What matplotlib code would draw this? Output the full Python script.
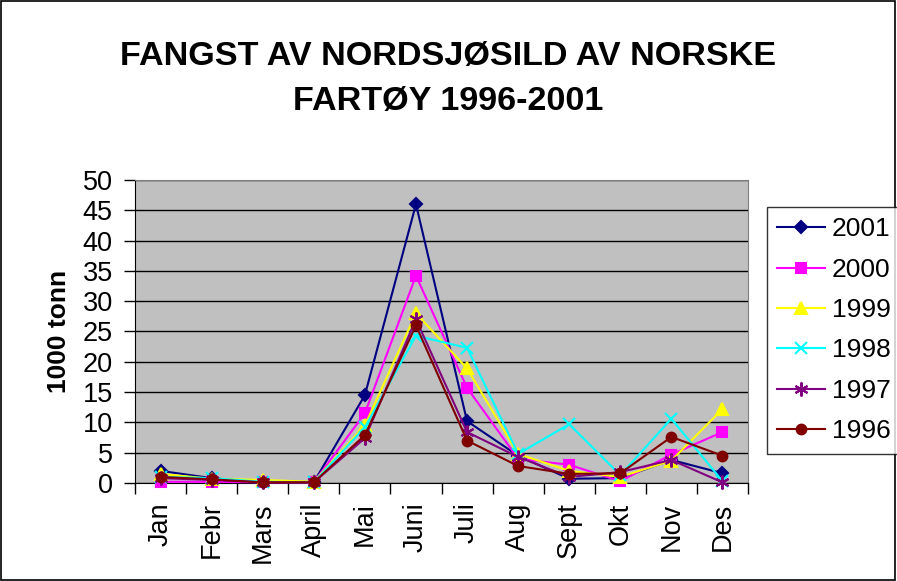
import numpy as np
import matplotlib.pyplot as plt

plt.rcParams["font.family"] = ["Liberation Sans", "DejaVu Sans"]

months = ["Jan", "Febr", "Mars", "April", "Mai", "Juni", "Juli", "Aug", "Sept", "Okt", "Nov", "Des"]
y2001 = [2.0, 0.8, 0.1, 0.1, 14.5, 46.0, 10.2, 4.5, 0.7, 0.8, 3.8, 1.6]
y2000 = [0.2, 0.2, 0.1, 0.1, 11.5, 34.2, 15.7, 4.0, 3.0, 0.3, 4.7, 8.4]
y1999 = [1.5, 0.7, 0.5, 0.2, 9.5, 28.0, 18.9, 4.8, 2.0, 1.0, 3.7, 12.2]
y1998 = [1.0, 0.8, 0.2, 0.1, 9.2, 24.3, 22.3, 4.8, 9.7, 1.3, 10.6, 0.3]
y1997 = [0.8, 0.5, 0.1, 0.1, 7.4, 27.0, 8.4, 4.3, 1.0, 1.8, 3.8, 0.1]
y1996 = [1.0, 0.6, 0.1, 0.1, 7.9, 26.0, 7.0, 2.8, 1.5, 1.6, 7.6, 4.5]

series = [
    ("2001", y2001, "#000080", "D", 6),
    ("2000", y2000, "#FF00FF", "s", 7),
    ("1999", y1999, "#FFFF00", "^", 8),
    ("1998", y1998, "#00FFFF", "x", 9),
    ("1997", y1997, "#800080", (6, 2, 0), 10),
    ("1996", y1996, "#800000", "o", 7),
]

fig = plt.figure(figsize=(8.97, 5.81), dpi=100)
fig.patches.append(plt.Rectangle((0.001, 0.001), 0.997, 0.997, transform=fig.transFigure,
                                 fill=False, edgecolor="black", linewidth=1.2))
ax = fig.add_axes([0.1505, 0.1687, 0.6834, 0.5215])
ax.set_facecolor("#C0C0C0")

x = np.arange(len(months))
for name, vals, col, mk, ms in series:
    ax.plot(x, vals, color=col, marker=mk, markersize=ms, linewidth=1.5, label=name,
            markeredgecolor=col, markeredgewidth=1.5, clip_on=False, zorder=3)

ax.set_xlim(-0.5, 11.5)
ax.set_ylim(0, 50)
ax.set_yticks(range(0, 51, 5))
ax.yaxis.grid(True, color="black", linewidth=1)
ax.set_axisbelow(True)
ax.set_xticks(x)
ax.set_xticklabels(months, rotation=90, fontsize=19.5)
ax.set_xticks(np.arange(-0.5, 12, 1), minor=True)
ax.tick_params(axis="x", which="major", length=0, pad=14)
ax.tick_params(axis="x", which="minor", length=8, direction="out", width=1)
ax.tick_params(axis="y", labelsize=19.5, length=8, width=1, pad=8)
for s in ["top", "right"]:
    ax.spines[s].set_color("gray")
for s in ["left", "bottom"]:
    ax.spines[s].set_color("black")
ax.set_ylabel("1000 tonn", fontsize=19, fontweight="bold", labelpad=8)

fig.text(0.5, 0.903, "FANGST AV NORDSJØSILD AV NORSKE", ha="center", va="center",
         fontsize=24.6, fontweight="bold")
fig.text(0.5, 0.826, "FARTØY 1996-2001", ha="center", va="center",
         fontsize=24.6, fontweight="bold")

leg = fig.legend(loc="upper left", bbox_to_anchor=(0.855, 0.644), fontsize=19, frameon=True,
                 fancybox=False, edgecolor="black", handlelength=1.8, labelspacing=0.62,
                 borderpad=0.4, handletextpad=0.25, borderaxespad=0)
leg.get_frame().set_linewidth(1)

fig.savefig("out.png", dpi=100)
